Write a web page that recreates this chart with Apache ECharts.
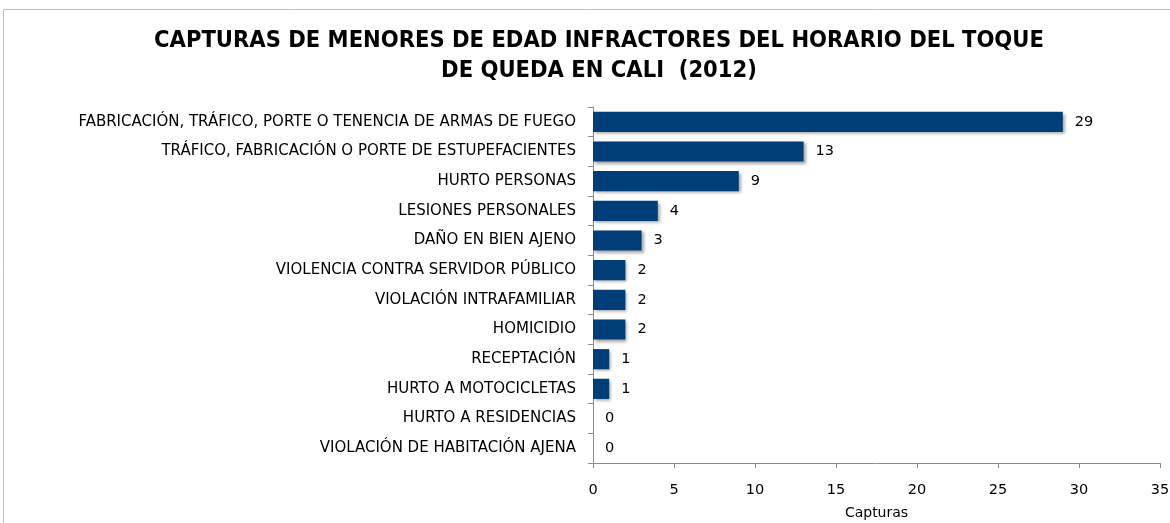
<!DOCTYPE html>
<html><head><meta charset="utf-8">
<script src="https://cdn.jsdelivr.net/npm/echarts@6/dist/echarts.min.js"></script>
<style>html,body{margin:0;padding:0;background:#fff}#c{width:1170px;height:523px}</style>
</head><body><div id="c"></div>
<script>
const categories = [
  "FABRICACIÓN, TRÁFICO, PORTE O TENENCIA DE ARMAS DE FUEGO",
  "TRÁFICO, FABRICACIÓN O PORTE DE ESTUPEFACIENTES",
  "HURTO PERSONAS",
  "LESIONES PERSONALES",
  "DAÑO EN BIEN AJENO",
  "VIOLENCIA CONTRA SERVIDOR PÚBLICO",
  "VIOLACIÓN INTRAFAMILIAR",
  "HOMICIDIO",
  "RECEPTACIÓN",
  "HURTO A MOTOCICLETAS",
  "HURTO A RESIDENCIAS",
  "VIOLACIÓN DE HABITACIÓN AJENA"
];
const values = [29, 13, 9, 4, 3, 2, 2, 2, 1, 1, 0, 0];
const xTicks = [0, 5, 10, 15, 20, 25, 30, 35];
const titleText = "CAPTURAS DE MENORES DE EDAD INFRACTORES DEL HORARIO DEL TOQUE\nDE QUEDA EN CALI  (2012)";
const xAxisName = "Capturas";

const chart = echarts.init(document.getElementById('c'), null, {renderer: 'canvas'});
chart.setOption({
  animation: false,
  backgroundColor: '#fff',
  graphic: [{
    type: 'rect', shape: {x: 3.5, y: 9.5, width: 1180, height: 530},
    style: {fill: 'none', stroke: '#bfbfbf', lineWidth: 1}, silent: true
  }],
  title: {
    text: titleText, left: 594, top: 21, textAlign: 'center',
    textStyle: {fontFamily: '"Liberation Sans Narrow","DejaVu Sans Condensed","Open Sans",sans-serif', fontWeight: 'bold', fontSize: 23.5, lineHeight: 30, color: '#000'}
  },
  grid: {left: 593, right: 10, top: 107, bottom: 60, containLabel: false, outerBoundsMode: 'none'},
  xAxis: {
    type: 'value', min: 0, max: 35, interval: 5,
    name: xAxisName, nameLocation: 'middle', nameGap: 43,
    nameTextStyle: {fontFamily: 'Verdana,"DejaVu Sans",sans-serif', fontSize: 14, color: '#000'},
    axisLine: {show: true, lineStyle: {color: '#8c8c8c'}},
    axisTick: {show: true, length: 5, lineStyle: {color: '#8c8c8c'}},
    axisLabel: {fontFamily: 'Verdana,"DejaVu Sans",sans-serif', fontSize: 14.5, color: '#000', margin: 20,
      formatter: v => xTicks.includes(v) ? String(v) : ''},
    splitLine: {show: false}
  },
  yAxis: {
    type: 'category', data: categories, inverse: true,
    axisLine: {show: true, lineStyle: {color: '#8c8c8c'}},
    axisTick: {show: true, length: 5, lineStyle: {color: '#8c8c8c'}},
    axisLabel: {fontFamily: 'Verdana,"DejaVu Sans",sans-serif', fontSize: 15, color: '#000', margin: 17},
    splitLine: {show: false}
  },
  series: [{
    type: 'bar', data: values, barCategoryGap: '32%',
    itemStyle: {color: '#003e78', shadowColor: 'rgba(0,0,0,0.35)', shadowBlur: 3, shadowOffsetX: 2, shadowOffsetY: 2},
    label: {show: true, position: 'right', distance: 12, fontFamily: 'Verdana,"DejaVu Sans",sans-serif', fontSize: 14.5, color: '#000'}
  }]
});
</script></body></html>
